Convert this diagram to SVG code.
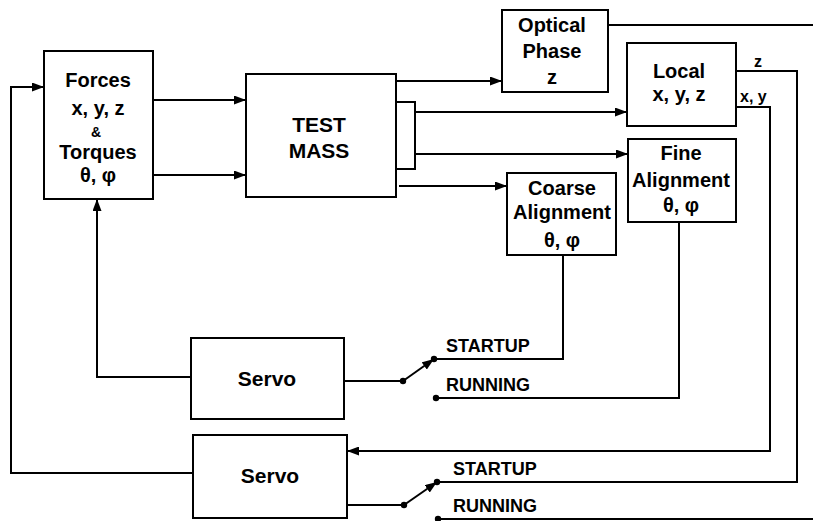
<svg xmlns="http://www.w3.org/2000/svg" width="813" height="521" viewBox="0 0 813 521">
  <style>
    .box { fill: #ffffff; stroke: #000000; stroke-width: 2; }
    .wire { fill: none; stroke: #000000; stroke-width: 2; }
    .lbl { font-family: "Liberation Sans", Arial, Helvetica, sans-serif; font-weight: bold; font-size: 20px; fill: #000000; text-anchor: middle; }
    .big { font-size: 21px; }
    .amp { font-size: 14px; }
    .sw { font-family: "Liberation Sans", Arial, Helvetica, sans-serif; font-weight: bold; font-size: 18px; fill: #000000; }
    .tag { font-family: "Liberation Sans", Arial, Helvetica, sans-serif; font-weight: bold; font-size: 16px; fill: #000000; }
    .dot { fill: #000000; }
  </style>
  <defs>
    <marker id="arrow" markerUnits="userSpaceOnUse" markerWidth="13" markerHeight="9" refX="12" refY="4.5" orient="auto">
      <path d="M0,0 L12,4.5 L0,9 z" fill="#000000"/>
    </marker>
  </defs>
  <rect width="813" height="521" fill="#ffffff"/>

  <!-- connectors -->
  <g id="connectors">
    <path class="wire" d="M153,100 H246" marker-end="url(#arrow)"/>
    <path class="wire" d="M153,175 H246" marker-end="url(#arrow)"/>
    <path class="wire" d="M396,81 H502" marker-end="url(#arrow)"/>
    <path class="wire" d="M396,102 H415 V169 H396"/>
    <path class="wire" d="M415,112 H627" marker-end="url(#arrow)"/>
    <path class="wire" d="M415,154 H628" marker-end="url(#arrow)"/>
    <path class="wire" d="M399,186 H507" marker-end="url(#arrow)"/>
    <path class="wire" d="M608,25 H813"/>
    <!-- Local z output to lower STARTUP contact -->
    <path class="wire" d="M736,71 H797 V482 H437"/>
    <!-- Local x, y output to lower servo -->
    <path class="wire" d="M736,107 H770 V451 H347" marker-end="url(#arrow)"/>
    <!-- alignment outputs to upper switch contacts -->
    <path class="wire" d="M563,255 V359 H434"/>
    <path class="wire" d="M679,222 V398 H436"/>
    <!-- upper servo output and switch -->
    <path class="wire" d="M344,381 H403"/>
    <path class="wire" d="M403,381 L434,359" marker-end="url(#arrow)"/>
    <!-- upper servo back to Forces -->
    <path class="wire" d="M191,377 H97 V199" marker-end="url(#arrow)"/>
    <!-- lower servo back to Forces -->
    <path class="wire" d="M193,473 H11 V87 H44" marker-end="url(#arrow)"/>
    <!-- lower servo output and switch -->
    <path class="wire" d="M347,505 H404"/>
    <path class="wire" d="M404,505 L437,482" marker-end="url(#arrow)"/>
    <path class="wire" d="M438,519 H813"/>
    <circle class="dot" cx="403" cy="381" r="3.2"/>
    <circle class="dot" cx="434" cy="359" r="3.2"/>
    <circle class="dot" cx="436" cy="398" r="3.2"/>
    <circle class="dot" cx="404" cy="505" r="3.2"/>
    <circle class="dot" cx="437" cy="482" r="3.2"/>
    <circle class="dot" cx="438" cy="519" r="3.2"/>
    <text class="sw" x="446" y="352">STARTUP</text>
    <text class="sw" x="446" y="391">RUNNING</text>
    <text class="sw" x="453" y="475">STARTUP</text>
    <text class="sw" x="453" y="512">RUNNING</text>
    <text class="tag" x="754" y="67">z</text>
    <text class="tag" x="740" y="102">x, y</text>
  </g>

  <g id="forces">
    <rect class="box" x="44" y="51" width="109" height="148"/>
    <text class="lbl" x="98" y="87">Forces</text>
    <text class="lbl" x="98" y="115">x, y, z</text>
    <text class="lbl amp" x="96" y="137">&amp;</text>
    <text class="lbl" x="98" y="159">Torques</text>
    <text class="lbl" x="98" y="182">θ, φ</text>
  </g>

  <g id="test-mass">
    <rect class="box" x="246" y="74" width="150" height="123"/>
    <text class="lbl big" x="319" y="132">TEST</text>
    <text class="lbl big" x="319" y="158">MASS</text>
  </g>

  <g id="optical-phase">
    <rect class="box" x="502" y="10" width="106" height="82"/>
    <text class="lbl" x="552" y="32">Optical</text>
    <text class="lbl" x="552" y="58">Phase</text>
    <text class="lbl" x="552" y="84">z</text>
  </g>

  <g id="local">
    <rect class="box" x="627" y="43" width="109" height="83"/>
    <text class="lbl" x="679" y="78">Local</text>
    <text class="lbl" x="679" y="101">x, y, z</text>
  </g>

  <g id="fine-alignment">
    <rect class="box" x="628" y="139" width="108" height="83"/>
    <text class="lbl" x="681" y="160">Fine</text>
    <text class="lbl" x="681" y="187">Alignment</text>
    <text class="lbl" x="681" y="212">θ, φ</text>
  </g>

  <g id="coarse-alignment">
    <rect class="box" x="507" y="173" width="109" height="82"/>
    <text class="lbl" x="562" y="195">Coarse</text>
    <text class="lbl" x="562" y="219">Alignment</text>
    <text class="lbl" x="562" y="247">θ, φ</text>
  </g>

  <g id="servo-upper">
    <rect class="box" x="191" y="338" width="153" height="81"/>
    <text class="lbl big" x="267" y="386">Servo</text>
  </g>

  <g id="servo-lower">
    <rect class="box" x="193" y="435" width="154" height="83"/>
    <text class="lbl big" x="270" y="483">Servo</text>
  </g>
</svg>
